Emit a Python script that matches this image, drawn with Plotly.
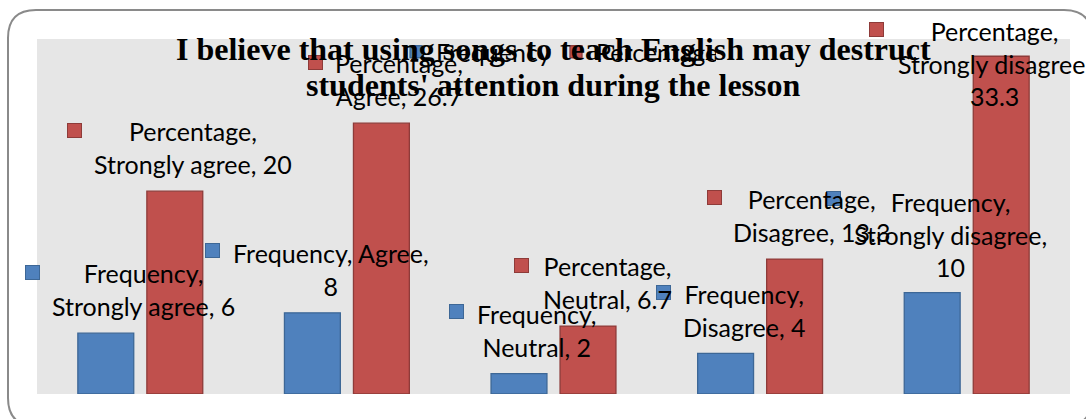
import plotly.graph_objects as go

# Survey responses
categories = ["Strongly agree", "Agree", "Neutral", "Disagree", "Strongly disagree"]
frequency = [6, 8, 2, 4, 10]
percentage = [20, 26.7, 6.7, 13.3, 33.3]
series_names = ["Frequency", "Percentage"]

title_lines = ["I believe that using songs to teach English may destruct",
               "students' attention during the lesson"]

# Styling
W, H = 1086, 419
M_L, M_R, M_T, M_B = 37, 16, 39, 25
Y_MAX = 35
BLUE, BLUE_EDGE = "#4f81bd", "#3d6796"
RED, RED_EDGE = "#c0504d", "#8e3b39"
LABEL_FONT = dict(family="Lato, Carlito, Calibri, sans-serif", size=25, color="#000000")
TITLE_FONT = dict(family="Liberation Serif, Times New Roman, serif", size=32, color="#000000")
TITLE_BASELINES = [61, 97]  # px from the top of the figure

# Label placement relative to the top centre of each bar (pixels):
# (text dx, first-baseline dy, key dx, key dy)
freq_label_offsets = [(38, -51, -73, -61), (19, -51, -100, -62), (18, -51, -62, -62),
                      (19, -51, -62, -61), (18, -82, -99, -94)]
pct_label_offsets = [(18, -51, -100, -61), (18, -51, -66, -61), (19, -51, -67, -61),
                     (17, -51, -80, -62), (-7, -16, -125, -27)]
# where each label wraps (after the series name / after the category)
freq_label_breaks = [(1,), (2,), (1,), (1,), (1, 2)]
pct_label_breaks = [(1,), (1,), (1,), (1,), (1, 2)]


def fmt(v):
    return f"{v:g}"


def label_text(series, cat, val, breaks):
    parts = [series + ",", cat + ",", fmt(val)]
    lines, cur = [], []
    for i, p in enumerate(parts):
        cur.append(p)
        if i + 1 in breaks or i == len(parts) - 1:
            lines.append(" ".join(cur))
            cur = []
    return "<br>".join(lines)


fig = go.Figure()
fig.add_trace(go.Bar(name=series_names[0], x=categories, y=frequency,
                     marker=dict(color=BLUE, line=dict(color=BLUE_EDGE, width=1.3))))
fig.add_trace(go.Bar(name=series_names[1], x=categories, y=percentage,
                     marker=dict(color=RED, line=dict(color=RED_EDGE, width=1.3))))

plot_w = W - M_L - M_R
plot_h = H - M_T - M_B
cat_w = plot_w / len(categories)
bargap = 0.332
bargroupgap = 0.19
slot = cat_w * (1 - bargap) / 2
bar_off = slot / 2  # distance from category centre to each bar centre

ASCENT = 0.99 * LABEL_FONT["size"]
KEY = 13  # inner size of the legend-key squares beside the labels

annotations = []
for s_idx, (name, vals, offs, brks, color, edge) in enumerate([
        (series_names[0], frequency, freq_label_offsets, freq_label_breaks, BLUE, BLUE_EDGE),
        (series_names[1], percentage, pct_label_offsets, pct_label_breaks, RED, RED_EDGE)]):
    side = -1 if s_idx == 0 else 1
    for i, (cat, v) in enumerate(zip(categories, vals)):
        tdx, tdy, kdx, kdy = offs[i]
        base_dx = side * bar_off
        annotations.append(dict(
            x=i, y=v, xref="x", yref="y",
            text=label_text(name, cat, v, brks[i]),
            showarrow=False, xanchor="center", yanchor="top",
            xshift=base_dx + tdx, yshift=-(tdy - ASCENT - 1),
            font=LABEL_FONT, align="center"))
        # small series key next to the label
        annotations.append(dict(
            x=i, y=v, xref="x", yref="y", text=" ", showarrow=False,
            xanchor="center", yanchor="middle", width=KEY, height=KEY,
            xshift=base_dx + kdx, yshift=-kdy,
            bgcolor=color, bordercolor=edge, borderwidth=1, borderpad=0,
            font=dict(size=4)))


def px_x(p):
    return (p - M_L) / plot_w


def px_y(p):
    return (H - M_B - p) / plot_h


# Two-line bold title
for line, base in zip(title_lines, TITLE_BASELINES):
    annotations.append(dict(
        x=0.5, xref="paper", y=px_y(base + 0.216 * TITLE_FONT["size"] + 1), yref="paper",
        xanchor="center", yanchor="bottom", showarrow=False,
        text=f"<b>{line}</b>", font=TITLE_FONT))

# Rounded chart border
bx0, bx1, by0, by1, r = 8, 1092, 10, 426, 28
path = (f"M {px_x(bx0 + r)},{px_y(by0)} L {px_x(bx1 - r)},{px_y(by0)} "
        f"Q {px_x(bx1)},{px_y(by0)} {px_x(bx1)},{px_y(by0 + r)} "
        f"L {px_x(bx1)},{px_y(by1 - r)} Q {px_x(bx1)},{px_y(by1)} {px_x(bx1 - r)},{px_y(by1)} "
        f"L {px_x(bx0 + r)},{px_y(by1)} Q {px_x(bx0)},{px_y(by1)} {px_x(bx0)},{px_y(by1 - r)} "
        f"L {px_x(bx0)},{px_y(by0 + r)} Q {px_x(bx0)},{px_y(by0)} {px_x(bx0 + r)},{px_y(by0)} Z")
shapes = [dict(type="path", xref="paper", yref="paper", path=path,
               line=dict(color="#8a8a8a", width=2), fillcolor="rgba(0,0,0,0)",
               layer="below")]

fig.update_layout(
    width=W, height=H,
    margin=dict(l=M_L, r=M_R, t=M_T, b=M_B),
    paper_bgcolor="#ffffff", plot_bgcolor="#e6e6e6",
    barmode="group", bargap=bargap, bargroupgap=bargroupgap,
    showlegend=True,
    legend=dict(orientation="h", x=px_x(396), xanchor="left", y=px_y(29), yanchor="top",
                font=LABEL_FONT, bgcolor="rgba(0,0,0,0)", borderwidth=0,
                entrywidth=115, entrywidthmode="pixels", traceorder="normal"),
    xaxis=dict(range=[-0.5, len(categories) - 0.5], autorange=False,
               showticklabels=False, showgrid=False, zeroline=False, showline=False,
               ticks=""),
    yaxis=dict(range=[0, Y_MAX], autorange=False, showticklabels=False, showgrid=False,
               zeroline=False, showline=False, ticks=""),
    annotations=annotations, shapes=shapes,
)

fig.write_html("out.html")
